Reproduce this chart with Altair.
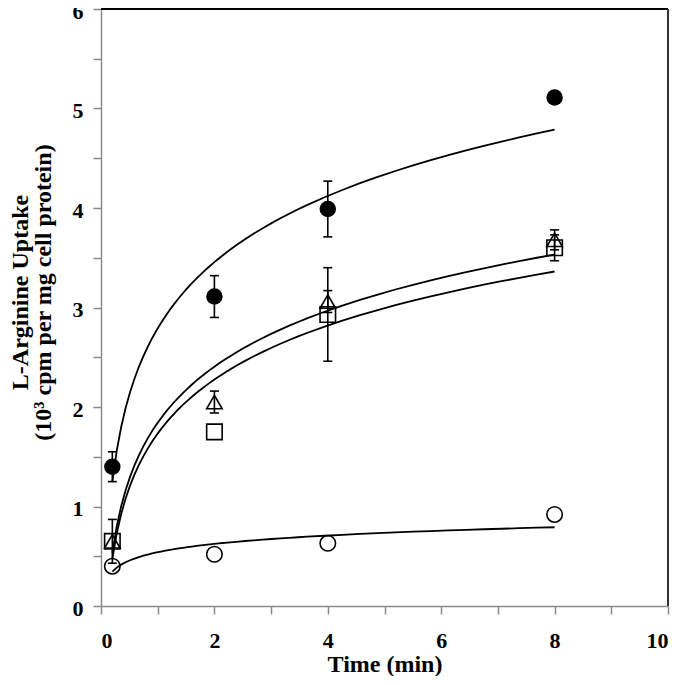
import altair as alt
import pandas as pd

# ---- data ----
time_min = [0.2, 2, 4, 8]

filled_circle = [1.40, 3.11, 3.99, 5.11]
open_triangle = [0.65, 2.05, 3.06, 3.68]
open_square = [0.65, 1.75, 2.93, 3.60]
open_circle = [0.40, 0.52, 0.63, 0.92]

filled_circle_err = [0.15, 0.21, 0.28, 0.0]
open_triangle_err = [0.0, 0.11, 0.11, 0.10]
open_square_err = [0.22, 0.0, 0.47, 0.13]
open_circle_err = [0.0, 0.0, 0.0, 0.0]

series_names = ["filled circle", "open triangle", "open square", "open circle"]
series_values = [filled_circle, open_triangle, open_square, open_circle]
series_errs = [filled_circle_err, open_triangle_err, open_square_err, open_circle_err]

rows = []
for name, vals, errs in zip(series_names, series_values, series_errs):
    for t, v, e in zip(time_min, vals, errs):
        rows.append({"series": name, "t": t, "v": v, "err": e,
                     "lo": round(v - e, 3), "hi": round(v + e, 3)})
df = pd.DataFrame(rows)

FONT = "Liberation Serif"
AX = "#8a8a8a"
W, H = 567, 597

x_scale = alt.Scale(domain=[0, 10], nice=False, zero=False)
y_scale = alt.Scale(domain=[0, 6], nice=False)

x_axis = alt.Axis(
    values=list(range(0, 11)),
    labelExpr="datum.value % 2 == 0 ? format(datum.value, 'd') : ''",
    title="Time (min)", grid=False,
    labelFont=FONT, labelFontSize=22, labelFontWeight="bold", labelColor="black",
    labelPadding=16,
    titleFont=FONT, titleFontSize=24, titleFontWeight="bold", titleColor="black",
    titleY=46, titleBaseline="top",
    tickColor=AX, tickSize=8, tickWidth=1.5,
    domainColor=AX, domainWidth=1.5,
)
y_axis = alt.Axis(
    values=[i * 0.5 for i in range(13)],
    labelExpr="datum.value % 1 == 0 ? format(datum.value, 'd') : ''",
    title=["L-Arginine Uptake", "(10³ cpm per mg cell protein)"], grid=False,
    labelFont=FONT, labelFontSize=22, labelFontWeight="bold", labelColor="black",
    labelPadding=10, labelOffset=2,
    titleFont=FONT, titleFontSize=24, titleFontWeight="bold", titleColor="black",
    titleAngle=270, titleBaseline="top", titleAlign="center",
    titleX=-93, titleY=283, titleLineHeight=23,
    tickColor=AX, tickSize=8, tickWidth=1.5,
    domainColor=AX, domainWidth=1.5,
)

base = alt.Chart(df)

curves = base.transform_regression(
    "t", "v", method="log", groupby=["series"], extent=[0.2, 8]
).mark_line(color="black", strokeWidth=1.8).encode(
    x=alt.X("t:Q", scale=x_scale, axis=x_axis),
    y=alt.Y("v:Q", scale=y_scale, axis=y_axis),
    detail="series:N",
)

bars = base.transform_filter("datum.err > 0").mark_rule(
    color="black", strokeWidth=1.6
).encode(
    x=alt.X("t:Q", scale=x_scale),
    y=alt.Y("lo:Q", scale=y_scale),
    y2="hi:Q",
)

caps = base.transform_filter("datum.err > 0").transform_fold(
    ["lo", "hi"], as_=["end", "val"]
).mark_tick(orient="horizontal", color="black", size=9, thickness=1.6, opacity=1).encode(
    x=alt.X("t:Q", scale=x_scale),
    y=alt.Y("val:Q", scale=y_scale),
)

filled_pts = base.transform_filter("datum.series == 'filled circle'").mark_point(
    shape="circle", filled=True, size=270, color="black", opacity=1
).encode(
    x=alt.X("t:Q", scale=x_scale),
    y=alt.Y("v:Q", scale=y_scale),
)

open_pts = base.transform_filter("datum.series != 'filled circle'").mark_point(
    filled=False, size=240, color="black", strokeWidth=1.6, opacity=1
).encode(
    x=alt.X("t:Q", scale=x_scale),
    y=alt.Y("v:Q", scale=y_scale),
    shape=alt.Shape("series:N",
                    scale=alt.Scale(domain=["open triangle", "open square", "open circle"],
                                    range=["triangle-up", "square", "circle"]),
                    legend=None),
)

frame_top = alt.Chart(df).mark_rule(color="black", strokeWidth=1.5).encode(
    x=alt.value(0), x2=alt.value(W), y=alt.value(0)
)
frame_right = alt.Chart(df).mark_rule(color="#333333", strokeWidth=1.5).encode(
    x=alt.value(W), y=alt.value(0), y2=alt.value(H)
)

chart = alt.layer(
    curves, bars, caps, open_pts, filled_pts, frame_top, frame_right
).properties(
    width=W, height=H,
    padding={"left": 93, "top": 1, "right": 4, "bottom": 70},
    autosize=alt.AutoSizeParams(type="none"),
).configure_view(stroke=None).configure(background="white")

chart.save("out.html", embed_options={"renderer": "svg", "actions": False})
